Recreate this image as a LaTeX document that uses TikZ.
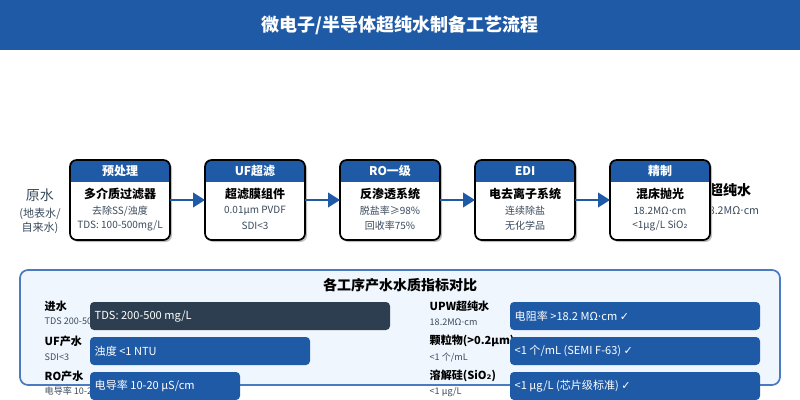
\documentclass[tikz,border=0pt]{standalone}
\usepackage{fontspec}
\setmainfont{Noto Sans CJK SC}
\newfontfamily\symfont{DejaVu Sans}
\definecolor{mainblue}{HTML}{1F5AA6}
\definecolor{darkbar}{HTML}{2C3E50}
\definecolor{subgray}{HTML}{3A4A5C}
\definecolor{panelbg}{HTML}{F0F6FE}
\definecolor{panelline}{HTML}{4A7BC0}
\usetikzlibrary{arrows.meta}
\tikzset{
  stagebox/.style={draw=black,line width=1.3pt,rounded corners=5pt},
  flow/.style={draw=mainblue,line width=1.5pt,-{Triangle[length=9pt,width=11pt]}},
  bartext/.style={anchor=west,text=white,font=\fontsize{8.3}{10}\selectfont},
  rowlabel/.style={anchor=west,font=\fontsize{8.3}{10}\selectfont\bfseries},
  rowsub/.style={anchor=west,text=subgray,font=\fontsize{6.8}{8}\selectfont},
}
\newcommand{\ck}{{\symfont\char"2713}}
\newcommand{\md}{{\symfont\char"00B7}}
\newcommand{\subtwo}{{\symfont\char"2082}}
\begin{document}
\begin{tikzpicture}[x=0.75pt,y=-0.75pt]
\useasboundingbox (0,0) rectangle (800,400);
% header
\fill[mainblue] (0,0) rectangle (800,50);
\node[text=white,font=\fontsize{13.5}{16}\selectfont\bfseries] (title) at (400,25) {微电子/半导体超纯水制备工艺流程};
% source and product
\node[text=subgray,font=\fontsize{10.5}{12}\selectfont] (raw) at (40,195) {原水};
\node[text=subgray,font=\fontsize{8.3}{10}\selectfont,align=center] (rawsub) at (40,221) {(地表水/\\自来水)};
\node[font=\fontsize{10.5}{12}\selectfont\bfseries] (upw) at (730,190) {超纯水};
\node[text=subgray,font=\fontsize{8}{10}\selectfont] (upwsub) at (731,211) {18.2MΩ\md cm};
% stages
\foreach \i/\x/\head/\main/\subA/\subB in {
  1/70/{预处理}/{多介质过滤器}/{去除SS/浊度}/{TDS: 100-500mg/L},
  2/205/{UF超滤}/{超滤膜组件}/{0.01μm PVDF}/{SDI<3},
  3/340/{RO一级}/{反渗透系统}/{脱盐率≥98\%}/{回收率75\%},
  4/475/{EDI}/{电去离子系统}/{连续除盐}/{无化学品},
  5/610/{精制}/{混床抛光}/{18.2MΩ\md cm}/{<1μg/L SiO\subtwo}}{
  \begin{scope}[shift={(\x,0)}]
    \fill[black!25,rounded corners=5pt] (2,162) rectangle (102,242);
    \fill[white,rounded corners=5pt] (0,160) rectangle (100,240);
    \begin{scope}
      \clip[rounded corners=5pt] (0,160) rectangle (100,240);
      \fill[mainblue] (0,160) rectangle (100,182);
    \end{scope}
    \draw[stagebox] (0,160) rectangle (100,240);
    \coordinate (s\i w) at (0,200);
    \coordinate (s\i e) at (100,200);
    \node[text=white,font=\fontsize{9}{10}\selectfont\bfseries] (h\i) at (50,171) {\head};
    \node[font=\fontsize{9}{10}\selectfont\bfseries] (m\i) at (50,194) {\main};
    \node[text=subgray,font=\fontsize{7.5}{9}\selectfont] (a\i) at (50,211) {\subA};
    \node[text=subgray,font=\fontsize{7.5}{9}\selectfont] (b\i) at (50,226) {\subB};
  \end{scope}
}
\foreach \i/\j in {1/2,2/3,3/4,4/5}
  \draw[flow] (s\i e) -- (s\j w);
% comparison panel
\draw[panelline,fill=panelbg,line width=1.3pt,rounded corners=6pt] (20,270) rectangle (780,385);
\node[font=\fontsize{10.5}{12}\selectfont\bfseries] (ptitle) at (400,285) {各工序产水水质指标对比};
\foreach \y/\lab/\sub/\len/\col/\txt in {
  302/{进水}/{TDS 200-500mg/L}/300/darkbar/{TDS: 200-500 mg/L},
  337/{UF产水}/{SDI<3}/220/mainblue/{浊度 <1 NTU},
  372/{RO产水}/{电导率 10-20μS/cm}/150/mainblue/{电导率 10-20 μS/cm}}{
  \node[rowlabel] (l\y) at (40,{\y+4}) {\lab};
  \node[rowsub] (t\y) at (40,{\y+20}) {\sub};
  \fill[\col,rounded corners=3pt] (90,\y) rectangle ++(\len,28);
  \node[bartext] (v\y) at (90,{\y+14}) {\txt};
}
\foreach \y/\lab/\sub/\txt in {
  302/{UPW超纯水}/{18.2MΩ\md cm}/{电阻率 >18.2 MΩ\md cm \ck},
  337/{颗粒物(>0.2μm)}/{<1 个/mL}/{<1 个/mL (SEMI F-63) \ck},
  372/{溶解硅(SiO\subtwo)}/{<1 μg/L}/{<1 μg/L (芯片级标准) \ck}}{
  \node[rowlabel] (r\y) at (425,{\y+4}) {\lab};
  \node[rowsub] (u\y) at (425,{\y+20}) {\sub};
  \fill[mainblue,rounded corners=3pt] (510,\y) rectangle ++(250,28);
  \node[bartext] (w\y) at (510,{\y+14}) {\txt};
}
\end{tikzpicture}
\end{document}
